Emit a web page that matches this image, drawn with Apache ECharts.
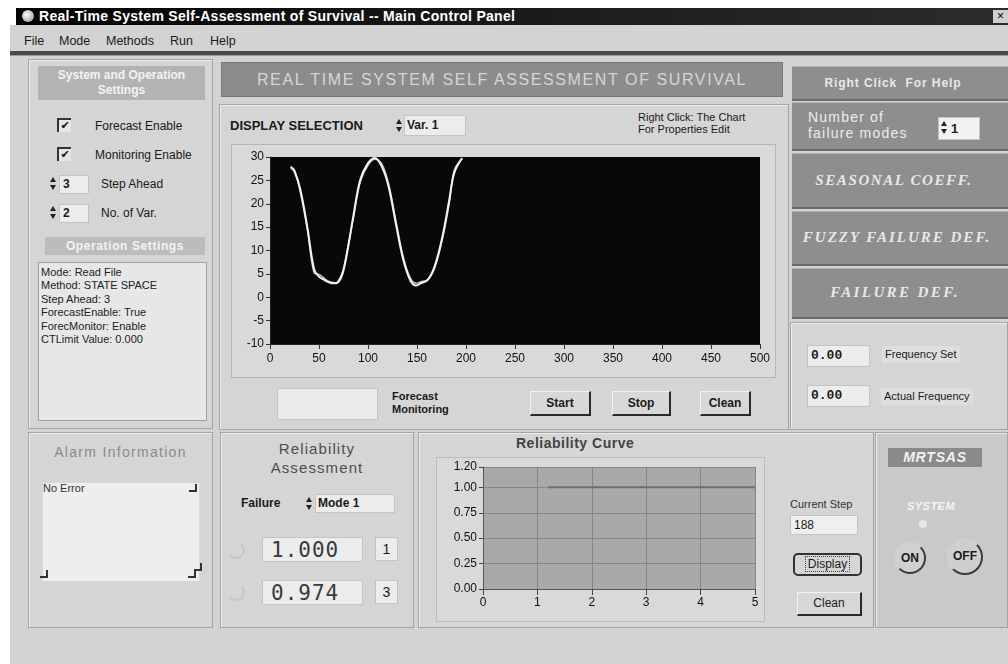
<!DOCTYPE html>
<html><head><meta charset="utf-8">
<script src="https://cdn.jsdelivr.net/npm/echarts/dist/echarts.min.js"></script>
<style>
body{margin:0;width:1008px;height:664px;background:#fff;overflow:hidden;position:relative;font-family:"Liberation Sans",Arial,sans-serif;color:#1a1a1a}
.a{position:absolute;white-space:nowrap}
.panel{position:absolute;border:1px solid #a4a4a4;box-shadow:inset 1px 1px 0 #ededed;background:#d5d5d5;box-sizing:border-box}
.blk{position:absolute;background:#8e8e8e;border-top:1px solid #b0b0b0;border-bottom:2px solid #6a6a6a;box-sizing:border-box;color:#e8e8e8;text-align:center}
.box{position:absolute;background:#ececec;border:1px solid #c4c4c4;box-sizing:border-box}
.btn{position:absolute;box-sizing:border-box;border-right:2px solid #2a2a2a;border-bottom:2px solid #2a2a2a;border-left:1px solid #f2f2f2;border-top:1px solid #f2f2f2;font-weight:bold;font-size:12px;text-align:center;background:#d8d8d8}
.spin{position:absolute;width:7px;height:14px}
.spin:before{content:"";position:absolute;left:0;top:0;border-left:3.5px solid transparent;border-right:3.5px solid transparent;border-bottom:5px solid #222}
.spin:after{content:"";position:absolute;left:0;top:8px;border-left:3.5px solid transparent;border-right:3.5px solid transparent;border-top:5px solid #222}
.chk{position:absolute;width:12px;height:12px;border-left:2px solid #333;border-top:2px solid #333;background:#e6e6e6;font-size:11px;line-height:12px;text-align:center;color:#111;font-family:"DejaVu Sans"}
.t12{font-size:12px;line-height:14px}
.t11{font-size:11px;line-height:13px}
.lcd{font-family:"DejaVu Sans Mono",monospace;font-size:21px;color:#3a3a3a;line-height:24px;letter-spacing:1px;padding-left:8px}
.corner{position:absolute;width:6px;height:6px;border-right:2px solid #333;border-bottom:2px solid #333}
#chart{position:absolute;left:0;top:0;width:1008px;height:664px;z-index:5;pointer-events:none}
</style></head>
<body>
<!-- window -->
<div class="a" style="left:10px;top:25px;width:998px;height:639px;background:#d3d3d3"></div>
<div class="a" style="left:16px;top:8px;width:992px;height:17px;background:linear-gradient(to right,#030303,#1e1e1e 60%,#2c2c2c)"></div>
<div class="a" style="left:22px;top:10px;width:12px;height:12px;border-radius:50%;background:radial-gradient(circle at 40% 40%,#fff,#888)"></div>
<div class="a" style="left:39px;top:8px;font-size:14px;line-height:17px;font-weight:bold;color:#fff;letter-spacing:0.3px">Real-Time System Self-Assessment of Survival -- Main Control Panel</div>
<div class="a" style="left:993px;top:10px;width:15px;height:13px;background:#cfcfcf;font-size:12px;line-height:13px;text-align:center;color:#000">×</div>
<div class="a t12" style="left:24px;top:34px;font-size:12.5px">File</div>
<div class="a t12" style="left:59px;top:34px;font-size:12.5px">Mode</div>
<div class="a t12" style="left:106px;top:34px;font-size:12.5px">Methods</div>
<div class="a t12" style="left:170px;top:34px;font-size:12.5px">Run</div>
<div class="a t12" style="left:210px;top:34px;font-size:12.5px">Help</div>
<div class="a" style="left:10px;top:51px;width:998px;height:4px;background:#4a4a4a;border-bottom:1px solid #9a9a9a"></div>

<!-- left panel -->
<div class="panel" style="left:28px;top:59px;width:185px;height:370px"></div>
<div class="a" style="left:38px;top:66px;width:167px;height:34px;background:#b3b3b3;color:#f3f3f3;font-weight:bold;font-size:12px;line-height:15px;text-align:center;padding-top:2px;box-sizing:border-box">System and Operation<br>Settings</div>
<div class="chk" style="left:57px;top:118px">✔</div>
<div class="a t12" style="left:95px;top:119px">Forecast Enable</div>
<div class="chk" style="left:57px;top:147px">✔</div>
<div class="a t12" style="left:95px;top:148px">Monitoring Enable</div>
<div class="spin" style="left:50px;top:177px"></div>
<div class="box" style="left:59px;top:175px;width:30px;height:19px;font-weight:bold;font-size:12px;line-height:17px;padding-left:3px">3</div>
<div class="a t12" style="left:101px;top:177px">Step Ahead</div>
<div class="spin" style="left:50px;top:206px"></div>
<div class="box" style="left:59px;top:204px;width:30px;height:19px;font-weight:bold;font-size:12px;line-height:17px;padding-left:3px">2</div>
<div class="a t12" style="left:101px;top:206px">No. of Var.</div>
<div class="a" style="left:45px;top:237px;width:160px;height:18px;background:#bcbcbc;color:#f4f4f4;font-weight:bold;font-size:12px;line-height:18px;text-align:center;letter-spacing:0.6px">Operation Settings</div>
<div class="box" style="left:38px;top:262px;width:169px;height:159px;background:#e7e7e7;border-color:#a0a0a0;font-size:11px;line-height:13.4px;padding:3px 0 0 2px;color:#222">Mode: Read File<br>Method: STATE SPACE<br>Step Ahead: 3<br>ForecastEnable: True<br>ForecMonitor: Enable<br>CTLimit Value: 0.000</div>

<!-- center -->
<div class="a" style="left:221px;top:62px;width:562px;height:35px;background:#8c8c8c;border:1px solid #777;box-sizing:border-box;color:#d6d6d6;font-size:16px;line-height:33px;text-align:center;letter-spacing:1.6px">REAL TIME SYSTEM SELF ASSESSMENT OF SURVIVAL</div>
<div class="panel" style="left:219px;top:104px;width:570px;height:326px"></div>
<div class="a" style="left:230px;top:118px;font-weight:bold;font-size:13px;line-height:16px">DISPLAY SELECTION</div>
<div class="spin" style="left:396px;top:119px"></div>
<div class="box" style="left:404px;top:115px;width:62px;height:21px;font-weight:bold;font-size:12px;line-height:19px;padding-left:2px">Var. 1</div>
<div class="a t11" style="left:638px;top:111px;line-height:12px">Right Click: The Chart<br>For Properties Edit</div>
<div class="box" style="left:231px;top:144px;width:545px;height:234px;background:#d9d9d9;border-color:#b6b6b6"></div>
<div class="box" style="left:277px;top:388px;width:101px;height:32px;background:#ebebeb"></div>
<div class="a" style="left:392px;top:390px;font-weight:bold;font-size:11px;line-height:13px">Forecast<br>Monitoring</div>
<div class="btn" style="left:530px;top:391px;width:61px;height:25px;line-height:22px">Start</div>
<div class="btn" style="left:612px;top:391px;width:59px;height:25px;line-height:22px">Stop</div>
<div class="btn" style="left:700px;top:391px;width:51px;height:25px;line-height:22px">Clean</div>

<!-- right column -->
<div class="blk" style="left:792px;top:66px;width:216px;height:35px;font-weight:bold;font-size:12px;line-height:33px;padding-right:14px;letter-spacing:0.9px">Right Click&nbsp; For Help</div>
<div class="blk" style="left:792px;top:102px;width:216px;height:49px"></div>
<div class="a" style="left:808px;top:109px;font-size:14px;line-height:16px;color:#ececec;letter-spacing:1.2px">Number of<br>failure modes</div>
<div class="box" style="left:938px;top:117px;width:42px;height:23px;background:#f2f2f2;font-weight:bold;font-size:13px;line-height:21px;padding-left:12px">1</div>
<div class="spin" style="left:941px;top:121px"></div>
<div class="blk" style="left:792px;top:153px;width:216px;height:56px;font-family:'Liberation Serif',serif;font-weight:bold;font-style:italic;font-size:15px;line-height:52px;letter-spacing:1.6px;padding-right:12px">SEASONAL COEFF.</div>
<div class="blk" style="left:792px;top:211px;width:216px;height:55px;font-family:'Liberation Serif',serif;font-weight:bold;font-style:italic;font-size:15px;line-height:51px;letter-spacing:2px;padding-right:6px">FUZZY FAILURE DEF.</div>
<div class="blk" style="left:792px;top:268px;width:216px;height:51px;font-family:'Liberation Serif',serif;font-weight:bold;font-style:italic;font-size:15px;line-height:47px;letter-spacing:2.4px;padding-right:10px">FAILURE DEF.</div>
<div class="panel" style="left:790px;top:322px;width:218px;height:108px"></div>
<div class="box" style="left:807px;top:345px;width:63px;height:22px;font-family:'Liberation Mono',monospace;font-weight:bold;font-size:13px;line-height:20px;padding-left:3px">0.00</div>
<div class="a t11" style="left:882px;top:346px;padding:2px 3px;background:#dedede">Frequency Set</div>
<div class="box" style="left:807px;top:385px;width:63px;height:22px;font-family:'Liberation Mono',monospace;font-weight:bold;font-size:13px;line-height:20px;padding-left:3px">0.00</div>
<div class="a t11" style="left:881px;top:388px;padding:2px 3px;background:#dedede">Actual Frequency</div>

<!-- bottom: alarm -->
<div class="panel" style="left:28px;top:432px;width:185px;height:196px"></div>
<div class="a" style="left:28px;top:444px;width:185px;text-align:center;font-size:14px;line-height:17px;color:#8a8a8a;letter-spacing:1.3px">Alarm Information</div>
<div class="box" style="left:42px;top:482px;width:158px;height:100px;background:#eeeeee;border-color:#d8d8d8"></div>
<div class="a t11" style="left:43px;top:482px;color:#333">No Error</div>
<div class="corner" style="left:189px;top:484px"></div>
<div class="corner" style="left:40px;top:570px"></div>
<div class="corner" style="left:188px;top:570px"></div>
<div class="corner" style="left:194px;top:563px"></div>

<!-- reliability assessment -->
<div class="panel" style="left:220px;top:432px;width:194px;height:196px"></div>
<div class="a" style="left:220px;top:439px;width:194px;text-align:center;font-size:15px;line-height:19px;color:#4e4e4e;letter-spacing:1.1px">Reliability<br>Assessment</div>
<div class="a" style="left:241px;top:496px;font-weight:bold;font-size:12px;line-height:14px">Failure</div>
<div class="spin" style="left:306px;top:497px"></div>
<div class="box" style="left:315px;top:494px;width:80px;height:19px;font-weight:bold;font-size:12px;line-height:17px;padding-left:2px">Mode 1</div>
<div class="a" style="left:227px;top:541px;width:14px;height:14px;border-radius:50%;border:2px solid;border-color:transparent #c6c6c6 #c6c6c6 transparent"></div>
<div class="box lcd" style="left:262px;top:537px;width:101px;height:25px">1.000</div>
<div class="box" style="left:375px;top:537px;width:23px;height:24px;font-size:14px;line-height:22px;text-align:center">1</div>
<div class="a" style="left:227px;top:583px;width:14px;height:14px;border-radius:50%;border:2px solid;border-color:transparent #c6c6c6 #c6c6c6 transparent"></div>
<div class="box lcd" style="left:262px;top:580px;width:101px;height:25px">0.974</div>
<div class="box" style="left:375px;top:580px;width:23px;height:24px;font-size:14px;line-height:22px;text-align:center">3</div>

<!-- reliability curve -->
<div class="panel" style="left:418px;top:432px;width:456px;height:196px"></div>
<div class="a" style="left:516px;top:435px;font-weight:bold;font-size:14px;line-height:17px;color:#444;letter-spacing:0.5px">Reliability Curve</div>
<div class="box" style="left:436px;top:457px;width:329px;height:165px;background:#d9d9d9;border-color:#bcbcbc"></div>
<div class="a t11" style="left:790px;top:498px;color:#333">Current Step</div>
<div class="box" style="left:790px;top:515px;width:68px;height:20px;background:#efefef;font-size:12px;line-height:18px;padding-left:3px">188</div>
<div class="a" style="left:793px;top:553px;width:69px;height:23px;border:2px solid #333;border-radius:5px;box-sizing:border-box;font-size:12px;line-height:19px;text-align:center;background:#d6d6d6"><span style="border:1px dotted #444;padding:0 2px">Display</span></div>
<div class="btn" style="left:797px;top:592px;width:65px;height:24px;line-height:21px;font-weight:normal">Clean</div>

<!-- MRTSAS -->
<div class="panel" style="left:875px;top:432px;width:133px;height:196px;background:#c9c9c9"></div>
<div class="a" style="left:888px;top:448px;width:94px;height:19px;background:#8a8a8a;color:#f2f2f2;font-weight:bold;font-style:italic;font-size:14px;line-height:19px;text-align:center;letter-spacing:0.8px">MRTSAS</div>
<div class="a" style="left:875px;top:500px;width:112px;text-align:center;font-weight:bold;font-style:italic;font-size:11px;line-height:13px;color:#f4f4f4;letter-spacing:0.5px">SYSTEM</div>
<div class="a" style="left:919px;top:520px;width:8px;height:8px;border-radius:50%;background:#e6e6e6"></div>
<div class="a" style="left:894px;top:542px;width:32px;height:32px;border-radius:50%;border:2px solid;border-color:#d0d0d0 #3a3a3a #3a3a3a #d0d0d0;box-sizing:border-box;font-weight:bold;font-size:12px;line-height:28px;text-align:center;background:#d0d0d0">ON</div>
<div class="a" style="left:947px;top:539px;width:36px;height:36px;border-radius:50%;border:2px solid;border-color:#d0d0d0 #3a3a3a #3a3a3a #d0d0d0;box-sizing:border-box;font-weight:bold;font-size:12px;line-height:30px;text-align:center;background:#cfcfcf">OFF</div>

<div id="chart"></div>
<script>
// ---- data ----
const signalX = [21,25,31,38,45,50,54,58,63,67,70,74,78,85,92,100,107,114,121,129,136,143,149,154,161,168,176,183,188,196];
const actualValues = [27.8,26.9,23.0,15.1,6.0,4.4,3.9,3.4,3.0,3.0,3.3,5.0,8.7,17.3,25.1,28.7,29.8,28.0,23.7,15.1,8.0,3.7,2.5,3.0,3.7,6.6,13.0,20.9,26.6,29.8];
const forecastValues = [28.0,27.2,22.4,14.6,5.2,4.9,4.3,3.6,3.2,3.1,3.6,5.4,9.2,16.8,24.6,28.2,29.5,28.6,24.3,15.8,8.6,4.2,3.0,3.3,3.8,6.2,12.5,20.2,27.2,29.6];
const signalXRange = [0, 500, 50];
const signalYRange = [-10, 30, 5];
const reliabilityX = [1.2, 2, 3, 4, 5];
const reliabilityValues = [1.0, 1.0, 1.0, 1.0, 1.0];
const reliabilityXRange = [0, 5, 1];
const reliabilityYRange = [0, 1.2, 0.25];

const pairs = (xs, ys) => xs.map((x, i) => [x, ys[i]]);
const lbl = {color:'#111', fontSize:12, fontFamily:'Liberation Sans'};
const chart = echarts.init(document.getElementById('chart'), null, {renderer:'canvas'});
chart.setOption({
  animation:false,
  grid:[
    {left:270, top:157, width:490, height:187, show:true, backgroundColor:'#080808', borderWidth:0},
    {left:483, top:467, width:272, height:122, show:true, backgroundColor:'#a9a9a9', borderWidth:0}
  ],
  xAxis:[
    {gridIndex:0, type:'value', min:signalXRange[0], max:signalXRange[1], interval:signalXRange[2],
     axisLine:{show:true, onZero:false, lineStyle:{color:'#222'}}, axisTick:{show:true, length:5, lineStyle:{color:'#333'}},
     axisLabel:Object.assign({margin:9}, lbl), splitLine:{show:false}},
    {gridIndex:1, type:'value', min:reliabilityXRange[0], max:reliabilityXRange[1], interval:reliabilityXRange[2],
     axisLine:{show:true, onZero:false, lineStyle:{color:'#555'}}, axisTick:{show:true, length:6, lineStyle:{color:'#444'}},
     axisLabel:Object.assign({margin:8}, lbl), splitLine:{show:true, lineStyle:{color:'#868686', width:1}}}
  ],
  yAxis:[
    {gridIndex:0, type:'value', min:signalYRange[0], max:signalYRange[1], interval:signalYRange[2],
     axisLine:{show:true, onZero:false, lineStyle:{color:'#222'}}, axisTick:{show:true, length:4, lineStyle:{color:'#333'}},
     axisLabel:Object.assign({margin:6}, lbl), splitLine:{show:false}},
    {gridIndex:1, type:'value', min:reliabilityYRange[0], max:reliabilityYRange[1], interval:reliabilityYRange[2],
     axisLine:{show:true, onZero:false, lineStyle:{color:'#555'}}, axisTick:{show:true, length:4, lineStyle:{color:'#444'}},
     axisLabel:Object.assign({margin:6, formatter:v => v.toFixed(2)}, lbl),
     splitLine:{show:true, lineStyle:{color:'#868686', width:1}}}
  ],
  series:[
    {name:'Forecast', type:'line', xAxisIndex:0, yAxisIndex:0, data:pairs(signalX, forecastValues), smooth:0.35,
     showSymbol:false, lineStyle:{color:'#bdbdbd', width:1.5}},
    {name:'Actual', type:'line', xAxisIndex:0, yAxisIndex:0, data:pairs(signalX, actualValues), smooth:0.35,
     showSymbol:false, lineStyle:{color:'#f2f2f2', width:2}},
    {name:'Reliability', type:'line', xAxisIndex:1, yAxisIndex:1, data:pairs(reliabilityX, reliabilityValues),
     showSymbol:false, lineStyle:{color:'#6f6f6f', width:2}}
  ]
});
</script>
</body></html>
